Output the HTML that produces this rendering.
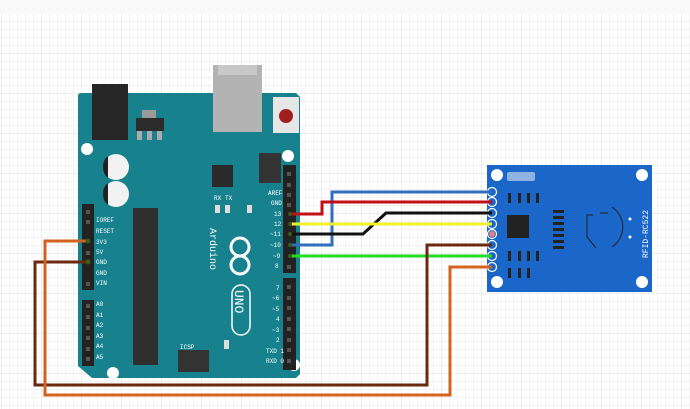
<!DOCTYPE html>
<html><head><style>
html,body{margin:0;padding:0;background:#fafafa;}
svg{display:block;}
text{font-family:"Liberation Mono",monospace;}
</style></head><body>
<svg width="690" height="409" viewBox="0 0 690 409" xmlns="http://www.w3.org/2000/svg">
<defs>
<pattern id="g" width="8" height="8" patternUnits="userSpaceOnUse" x="2" y="14">
<path d="M8 0V8M0 8H8" stroke="#e4e4e4" stroke-width="0.8" fill="none"/>
</pattern>
<pattern id="G" width="40" height="40" patternUnits="userSpaceOnUse" x="2" y="14">
<path d="M40 0V40M0 40H40" stroke="#d8d8d8" stroke-width="0.8" fill="none"/>
</pattern>
</defs>
<rect width="690" height="409" fill="#fafafa"/>
<rect y="14" width="690" height="395" fill="#fff"/>
<rect y="14" width="690" height="395" fill="url(#g)"/>
<rect y="14" width="690" height="395" fill="url(#G)"/>

<!-- Arduino board -->
<path d="M78 96 Q78 93 81 93 L296 93 L300 97 L300 374 L296 378 L92 378 L78 366 Z" fill="#17828e"/>
<rect x="92" y="84" width="36" height="56" fill="#262626"/>
<rect x="213" y="65" width="49" height="67" fill="#b3b3b3"/>
<rect x="218" y="65" width="39" height="10" fill="#c8c8c8"/>
<rect x="273" y="97" width="26" height="36" fill="#e6e6e6"/>
<circle cx="286" cy="116" r="7" fill="#a21f1f"/>
<rect x="136" y="118" width="28" height="13" fill="#2b2b2b"/>
<rect x="142" y="110" width="14" height="8" fill="#9a9a9a"/>
<rect x="137" y="131" width="5" height="9" fill="#aaa"/><rect x="147" y="131" width="5" height="9" fill="#aaa"/><rect x="157" y="131" width="5" height="9" fill="#aaa"/>
<circle cx="116" cy="167" r="13" fill="#f2f2f2"/><path d="M103 167 A13 13 0 0 1 108 156 L108 178 A13 13 0 0 1 103 167Z" fill="#222"/>
<circle cx="116" cy="194" r="13" fill="#f2f2f2"/><path d="M103 194 A13 13 0 0 1 108 183 L108 205 A13 13 0 0 1 103 194Z" fill="#222"/>
<circle cx="87" cy="149" r="6" fill="#fff"/><circle cx="288" cy="156" r="6" fill="#fff"/>
<circle cx="113" cy="373" r="6" fill="#fff"/><circle cx="294" cy="365" r="6" fill="#fff"/>
<rect x="212" y="165" width="21" height="22" fill="#2a2a2a"/>
<rect x="259" y="153" width="22" height="30" fill="#333"/>
<rect x="215" y="205" width="5" height="8" fill="#ddd"/><rect x="225" y="205" width="5" height="8" fill="#ddd"/><rect x="247" y="205" width="5" height="8" fill="#ddd"/>
<rect x="133" y="208" width="25" height="157" fill="#2f2f2f"/>
<rect x="283" y="165" width="13" height="108" fill="#222"/>
<rect x="283" y="278" width="13" height="92" fill="#222"/>
<rect x="82" y="204" width="12" height="86" fill="#222"/>
<rect x="82" y="300" width="12" height="66" fill="#222"/>
<rect x="178" y="350" width="31" height="22" fill="#333"/>
<rect x="224" y="340" width="5" height="9" fill="#ddd"/>
<g fill="#555">
<rect x="287" y="172" width="4" height="4"/><rect x="287" y="183" width="4" height="4"/><rect x="287" y="193" width="4" height="4"/><rect x="287" y="203" width="4" height="4"/><rect x="287" y="265" width="4" height="4"/>
<rect x="287" y="285" width="4" height="4"/><rect x="287" y="296" width="4" height="4"/><rect x="287" y="306" width="4" height="4"/><rect x="287" y="317" width="4" height="4"/><rect x="287" y="327" width="4" height="4"/><rect x="287" y="338" width="4" height="4"/><rect x="287" y="348" width="4" height="4"/><rect x="287" y="359" width="4" height="4"/>
<rect x="86" y="210" width="4" height="4"/><rect x="86" y="220" width="4" height="4"/><rect x="86" y="251" width="4" height="4"/><rect x="86" y="282" width="4" height="4"/>
<rect x="86" y="304" width="4" height="4"/><rect x="86" y="315" width="4" height="4"/><rect x="86" y="326" width="4" height="4"/><rect x="86" y="336" width="4" height="4"/><rect x="86" y="347" width="4" height="4"/><rect x="86" y="357" width="4" height="4"/>
</g>
<g fill="#fff" font-size="6">
<text x="96" y="222">IOREF</text><text x="96" y="233">RESET</text><text x="96" y="244">3V3</text><text x="96" y="254">5V</text><text x="96" y="264">GND</text><text x="96" y="275">GND</text><text x="96" y="285">VIN</text>
<text x="96" y="306">A0</text><text x="96" y="317">A1</text><text x="96" y="327">A2</text><text x="96" y="338">A3</text><text x="96" y="348">A4</text><text x="96" y="359">A5</text>
<text x="268" y="195">AREF</text><text x="271" y="205">GND</text><text x="274" y="216">13</text><text x="274" y="226">12</text><text x="270" y="236">~11</text><text x="270" y="247">~10</text><text x="273" y="258">~9</text><text x="275" y="268">8</text>
<text x="276" y="290">7</text><text x="272" y="300">~6</text><text x="272" y="311">~5</text><text x="276" y="321">4</text><text x="272" y="332">~3</text><text x="276" y="342">2</text><text x="266" y="353">TXD 1</text><text x="266" y="363">RXD 0</text>
<text x="180" y="349">ICSP</text><text x="214" y="200">RX</text><text x="225" y="200">TX</text>
</g>
<text x="0" y="0" fill="#fff" font-size="10" font-family="Liberation Sans,sans-serif" transform="translate(210 228) rotate(90)">Arduino</text>
<g fill="none" stroke="#fff" stroke-width="3"><circle cx="240" cy="247" r="9"/><circle cx="240" cy="265" r="9"/></g>
<rect x="232" y="285" width="18" height="50" rx="9" fill="none" stroke="#fff" stroke-width="1.5"/>
<text x="0" y="0" fill="#fff" font-size="13" font-family="Liberation Sans,sans-serif" transform="translate(235 290) rotate(90)">UNO</text>

<!-- RFID board -->
<rect x="487" y="165" width="165" height="127" fill="#1a66c9"/>
<circle cx="497" cy="175" r="6" fill="#fff"/><circle cx="642" cy="175" r="6" fill="#fff"/><circle cx="497" cy="282" r="6" fill="#fff"/><circle cx="642" cy="282" r="6" fill="#fff"/>
<rect x="507" y="172" width="28" height="9" rx="2" fill="#8fb3e0"/>
<rect x="507" y="215" width="22" height="23" fill="#222"/>
<g fill="#222">
<rect x="508" y="193" width="3" height="10"/><rect x="518" y="193" width="3" height="10"/><rect x="527" y="193" width="3" height="10"/><rect x="536" y="193" width="3" height="10"/>
<rect x="508" y="251" width="3" height="10"/><rect x="518" y="251" width="3" height="10"/><rect x="527" y="251" width="3" height="10"/><rect x="536" y="251" width="3" height="10"/>
<rect x="508" y="268" width="3" height="10"/><rect x="518" y="268" width="3" height="10"/><rect x="527" y="268" width="3" height="10"/>
<rect x="553" y="210" width="11" height="3"/><rect x="553" y="216" width="11" height="3"/><rect x="553" y="222" width="11" height="3"/><rect x="553" y="228" width="11" height="3"/><rect x="553" y="234" width="11" height="3"/><rect x="553" y="240" width="11" height="3"/><rect x="553" y="246" width="11" height="3"/>
</g>
<path d="M593 215 L587 215 L587 237 L596 248 M608 213 L600 213" stroke="#222" fill="none" stroke-width="1"/>
<path d="M612 207 A24 24 0 0 1 612 247" stroke="#222" fill="none" stroke-width="1"/>
<circle cx="630" cy="219" r="1.5" fill="#fff"/><circle cx="630" cy="237" r="1.5" fill="#fff"/>
<text x="0" y="0" fill="#fff" font-size="8" font-family="Liberation Sans,sans-serif" transform="translate(648 258) rotate(-90)">RFID-RC522</text>
<g fill="#1a66c9" stroke="#fff" stroke-width="1.2">
<circle cx="492" cy="192" r="4.5"/><circle cx="492" cy="202" r="4.5"/><circle cx="492" cy="213" r="4.5"/><circle cx="492" cy="224" r="4.5"/><circle cx="492" cy="234" r="4.5"/><circle cx="492" cy="245" r="4.5"/><circle cx="492" cy="256" r="4.5"/><circle cx="492" cy="267" r="4.5"/>
</g>

<!-- wires -->
<g fill="none" stroke-width="3" stroke-linejoin="miter">
<path d="M290 245 H332 V192 H492" stroke="#2f6fbd"/>
<path d="M290 214 H322 V202 H492" stroke="#c00f1a"/>
<path d="M290 234 H363 L386 213 H492" stroke="#111"/>
<path d="M290 224 H492" stroke="#f0f030"/>
<path d="M290 256 H492" stroke="#22dd22"/>
<path d="M492 245 H427 V385 H35 V262 H88" stroke="#6b2a10"/>
<path d="M492 267 H450 V395 H45 V241 H88" stroke="#d4621f"/>
</g>
<g fill="#3a5a1a"><circle cx="290" cy="214" r="2"/><circle cx="290" cy="224" r="2"/><circle cx="290" cy="234" r="2"/><circle cx="290" cy="245" r="2"/><circle cx="290" cy="256" r="2"/><circle cx="88" cy="241" r="2.5"/><circle cx="88" cy="262" r="2.5"/></g>
<circle cx="492" cy="234" r="3" fill="#e08080"/>
</svg>
</body></html>
